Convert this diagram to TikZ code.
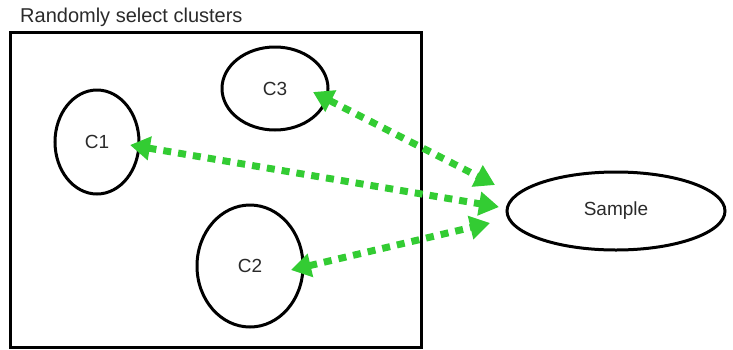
\documentclass[tikz,border=0pt]{standalone}
\usepackage{fontspec}
\setmainfont{Liberation Sans}
\usetikzlibrary{shapes.geometric,arrows.meta}
\definecolor{linkgreen}{HTML}{33CC33}
\definecolor{labelgray}{HTML}{2A2A2A}
\tikzset{
  cluster/.style={ellipse, draw=black, line width=3pt, inner sep=0pt,
    text=labelgray, font=\fontsize{19}{21}\selectfont},
  link/.style={draw=linkgreen, line width=7pt, dash pattern=on 8pt off 7pt,
    {Triangle[length=20pt,width=23pt,fill=linkgreen]}-{Triangle[length=20pt,width=23pt,fill=linkgreen]},
    shorten <=0pt, shorten >=0pt},
}
\begin{document}
\begin{tikzpicture}[x=1pt,y=-1pt]
  \useasboundingbox (0,0) rectangle (733,349);
  % frame of the population and its caption
  \draw[line width=3pt] (10,32) rectangle (421,347);
  \node[anchor=base west, inner sep=0pt, text=labelgray,
        font=\fontsize{20}{22}\selectfont] (title) at (20,22) {Randomly select clusters};
  % clusters and the sample
  \node[cluster, minimum width=106pt, minimum height=83pt] (c3) at (275,88.5) {C3};
  \node[cluster, minimum width=84pt, minimum height=104pt] (c1) at (97,142) {C1};
  \node[cluster, minimum width=106pt, minimum height=122pt] (c2) at (250,266) {C2};
  \node[cluster, minimum width=218pt, minimum height=78pt] (sample) at (616,211) {Sample};
  % arrow end points
  \coordinate (c3end) at (313,92);
  \coordinate (c1end) at (130,145);
  \coordinate (c2end) at (291,270);
  \coordinate (s3) at (495,185);
  \coordinate (s1) at (499,207);
  \coordinate (s2) at (490,223);
  \draw[link] (c3end) -- (s3);
  \draw[link] (c1end) -- (s1);
  \draw[link] (c2end) -- (s2);
\end{tikzpicture}
\end{document}
